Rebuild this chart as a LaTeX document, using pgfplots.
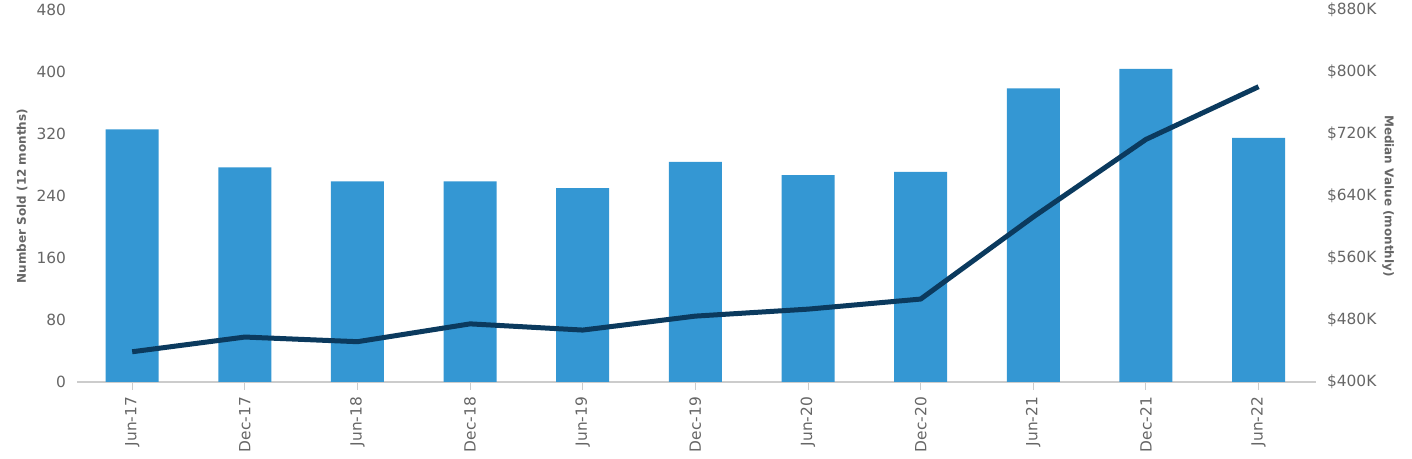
\documentclass[border=0pt]{standalone}
\usepackage{pgfplots}
\pgfplotsset{compat=1.18}
\usepackage{fontspec}
\setmainfont{DejaVu Sans}
\definecolor{barblue}{HTML}{3497D3}
\definecolor{linenavy}{HTML}{0B3A5E}
\definecolor{txtgrey}{HTML}{666666}
\definecolor{gridgrey}{HTML}{CCCCCC}
\begin{document}
\begin{tikzpicture}
\useasboundingbox (0,0) rectangle (706pt,229.5pt);
\pgfplotsset{
  base/.style={
    at={(38.5pt,38.5pt)}, anchor=south west,
    scale only axis, width=619.5pt, height=186pt,
    xmin=-0.49, xmax=10.51,
    xtick={0,...,10},
    xticklabels={Jun-17,Dec-17,Jun-18,Dec-18,Jun-19,Dec-19,Jun-20,Dec-20,Jun-21,Dec-21,Jun-22},
    /pgf/number format/assume math mode=true,
    ticklabel style={font=\fontsize{7.7}{9}\selectfont, text=txtgrey},
  }
}
\begin{axis}[base,
  ymin=0, ymax=480, ytick={0,80,...,480},
  axis x line*=bottom, axis y line=none,
  x axis line style={gridgrey, line width=0.6pt},
  ymajorgrids, grid style={gridgrey, line width=0.5pt},
  xtick style={gridgrey, line width=0.5pt},
  major tick length=4pt,
  xtick pos=bottom, tick align=outside,
  xticklabel style={rotate=90, anchor=east},
  clip=false,
]
\addplot[ybar, bar width=26.5pt, fill=barblue, draw=none] coordinates {
(0,326) (1,277) (2,259) (3,259) (4,250) (5,284) (6,267) (7,271) (8,379) (9,404) (10,315)};
\node[rotate=90, font=\bfseries\fontsize{6}{7}\selectfont, text=txtgrey] at ([xshift=-27.5pt]rel axis cs:0,0.5) {Number Sold (12 months)};
\node[rotate=-90, font=\bfseries\fontsize{6}{7}\selectfont, text=txtgrey] at ([xshift=36pt]rel axis cs:1,0.5) {Median Value (monthly)};
\end{axis}
\begin{axis}[base,
  ymin=400, ymax=880, ytick={400,480,...,880},
  yticklabel={\$\pgfmathprintnumber{\tick}K},
  axis x line=none, axis y line*=right, y axis line style={draw=none},
  ytick style={draw=none}, xtick=\empty,
  yticklabel style={anchor=west, xshift=2pt},
]
\addplot[linenavy, line width=2.5pt, line join=round] coordinates {
(0,439) (1,458) (2,452) (3,475) (4,467) (5,485) (6,494) (7,507) (8,613) (9,713) (10,781)};
\end{axis}
\begin{axis}[base,
  ymin=0, ymax=480, ytick={0,80,...,480},
  axis x line=none, axis y line*=left, y axis line style={draw=none},
  ytick style={draw=none}, xtick=\empty,
  yticklabel style={anchor=east, xshift=-2pt},
]
\addplot[draw=none] coordinates {(0,0)};
\end{axis}
\end{tikzpicture}
\end{document}
